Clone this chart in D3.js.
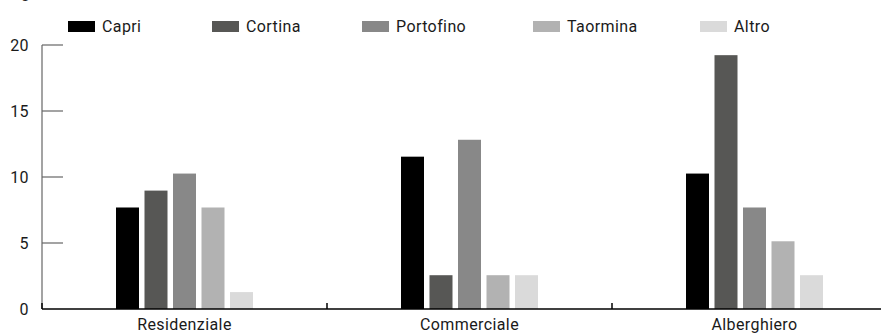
<!DOCTYPE html>
<html>
<head>
<meta charset="utf-8">
<script src="https://cdn.jsdelivr.net/npm/d3@7"></script>
<style>
  html, body { margin: 0; padding: 0; background: #fff; overflow: hidden; }
  svg { display: block; }
  text { font-family: Roboto, "DejaVu Sans Condensed", sans-serif; fill: #1a1a1a; letter-spacing: 0.4px; }
</style>
</head>
<body>
<svg id="chart" width="881" height="333"></svg>
<script>
// Segments along the x axis
const categories = ["Residenziale", "Commerciale", "Alberghiero"];
// Locations (one bar per location in each segment)
const series = ["Capri", "Cortina", "Portofino", "Taormina", "Altro"];
// Values per location, in segment order
const capri     = [7.69, 11.54, 10.26];
const cortina   = [8.97, 2.56, 19.23];
const portofino = [10.26, 12.82, 7.69];
const taormina  = [7.69, 2.56, 5.13];
const altro     = [1.28, 2.56, 2.56];
const yTicks = [0, 5, 10, 15, 20];
const colors = ["#000000", "#575755", "#888888", "#b2b2b2", "#dadada"];

const valuesBySeries = [capri, cortina, portofino, taormina, altro];
const rows = categories.map((c, i) => ({
  category: c,
  values: series.map((s, j) => ({ key: s, value: valuesBySeries[j][i] }))
}));

const svg = d3.select("#chart");
const plotLeft = 42, plotRight = 897, plotTop = 45, plotBottom = 309;
const fontSize = 16;

const x0 = d3.scaleBand().domain(categories).range([plotLeft, plotRight]).padding(0);
const groupW = 137;
const x1 = d3.scaleBand().domain(series)
  .range([(x0.bandwidth() - groupW) / 2, (x0.bandwidth() + groupW) / 2])
  .paddingInner(0.193).paddingOuter(0);
const y = d3.scaleLinear().domain([0, 20]).range([plotBottom, plotTop]);
const color = d3.scaleOrdinal().domain(series).range(colors);

// Heading (sits above the visible area)
svg.append("text").attr("x", 21).attr("y", -2).attr("font-size", fontSize).text("g");

// Y axis: grey spine with inward ticks, labels on the left
const yAxis = svg.append("g");
yAxis.append("line")
  .attr("x1", plotLeft).attr("x2", plotLeft).attr("y1", y(20)).attr("y2", y(0))
  .attr("stroke", "#666").attr("stroke-width", 1.2);
yAxis.selectAll("line.tick").data(yTicks.filter(d => d > 0)).join("line")
  .attr("class", "tick")
  .attr("x1", plotLeft).attr("x2", plotLeft + 21)
  .attr("y1", d => y(d)).attr("y2", d => y(d))
  .attr("stroke", "#666").attr("stroke-width", 1.2);
yAxis.selectAll("text").data(yTicks).join("text")
  .attr("x", 29).attr("y", d => y(d) + 5.7)
  .attr("text-anchor", "end").attr("font-size", fontSize)
  .text(d => d);

// Bars
svg.append("g").selectAll("g").data(rows).join("g")
  .attr("transform", d => `translate(${x0(d.category)},0)`)
  .selectAll("rect").data(d => d.values).join("rect")
  .attr("x", d => x1(d.key))
  .attr("width", x1.bandwidth())
  .attr("y", d => y(d.value))
  .attr("height", d => y(0) - y(d.value))
  .attr("fill", d => color(d.key));

// X axis: black baseline, small ticks at segment boundaries
const xAxis = svg.append("g");
xAxis.append("line")
  .attr("x1", plotLeft).attr("x2", plotRight).attr("y1", plotBottom).attr("y2", plotBottom)
  .attr("stroke", "#000").attr("stroke-width", 1.5);
xAxis.selectAll("line.tick").data(categories).join("line")
  .attr("class", "tick")
  .attr("x1", d => x0(d)).attr("x2", d => x0(d))
  .attr("y1", plotBottom).attr("y2", plotBottom - 6)
  .attr("stroke", "#000").attr("stroke-width", 1.5);
xAxis.selectAll("text").data(categories).join("text")
  .attr("x", d => x0(d) + x0.bandwidth() / 2)
  .attr("y", 330)
  .attr("text-anchor", "middle").attr("font-size", fontSize)
  .text(d => d);

// Legend
const legendX = [68, 212, 362, 533, 700];
const legend = svg.append("g").selectAll("g").data(series).join("g")
  .attr("transform", (d, i) => `translate(${legendX[i]},21)`);
legend.append("rect").attr("width", 27).attr("height", 11).attr("fill", d => color(d));
legend.append("text").attr("x", 34).attr("y", 11).attr("font-size", fontSize).text(d => d);
</script>
</body>
</html>
